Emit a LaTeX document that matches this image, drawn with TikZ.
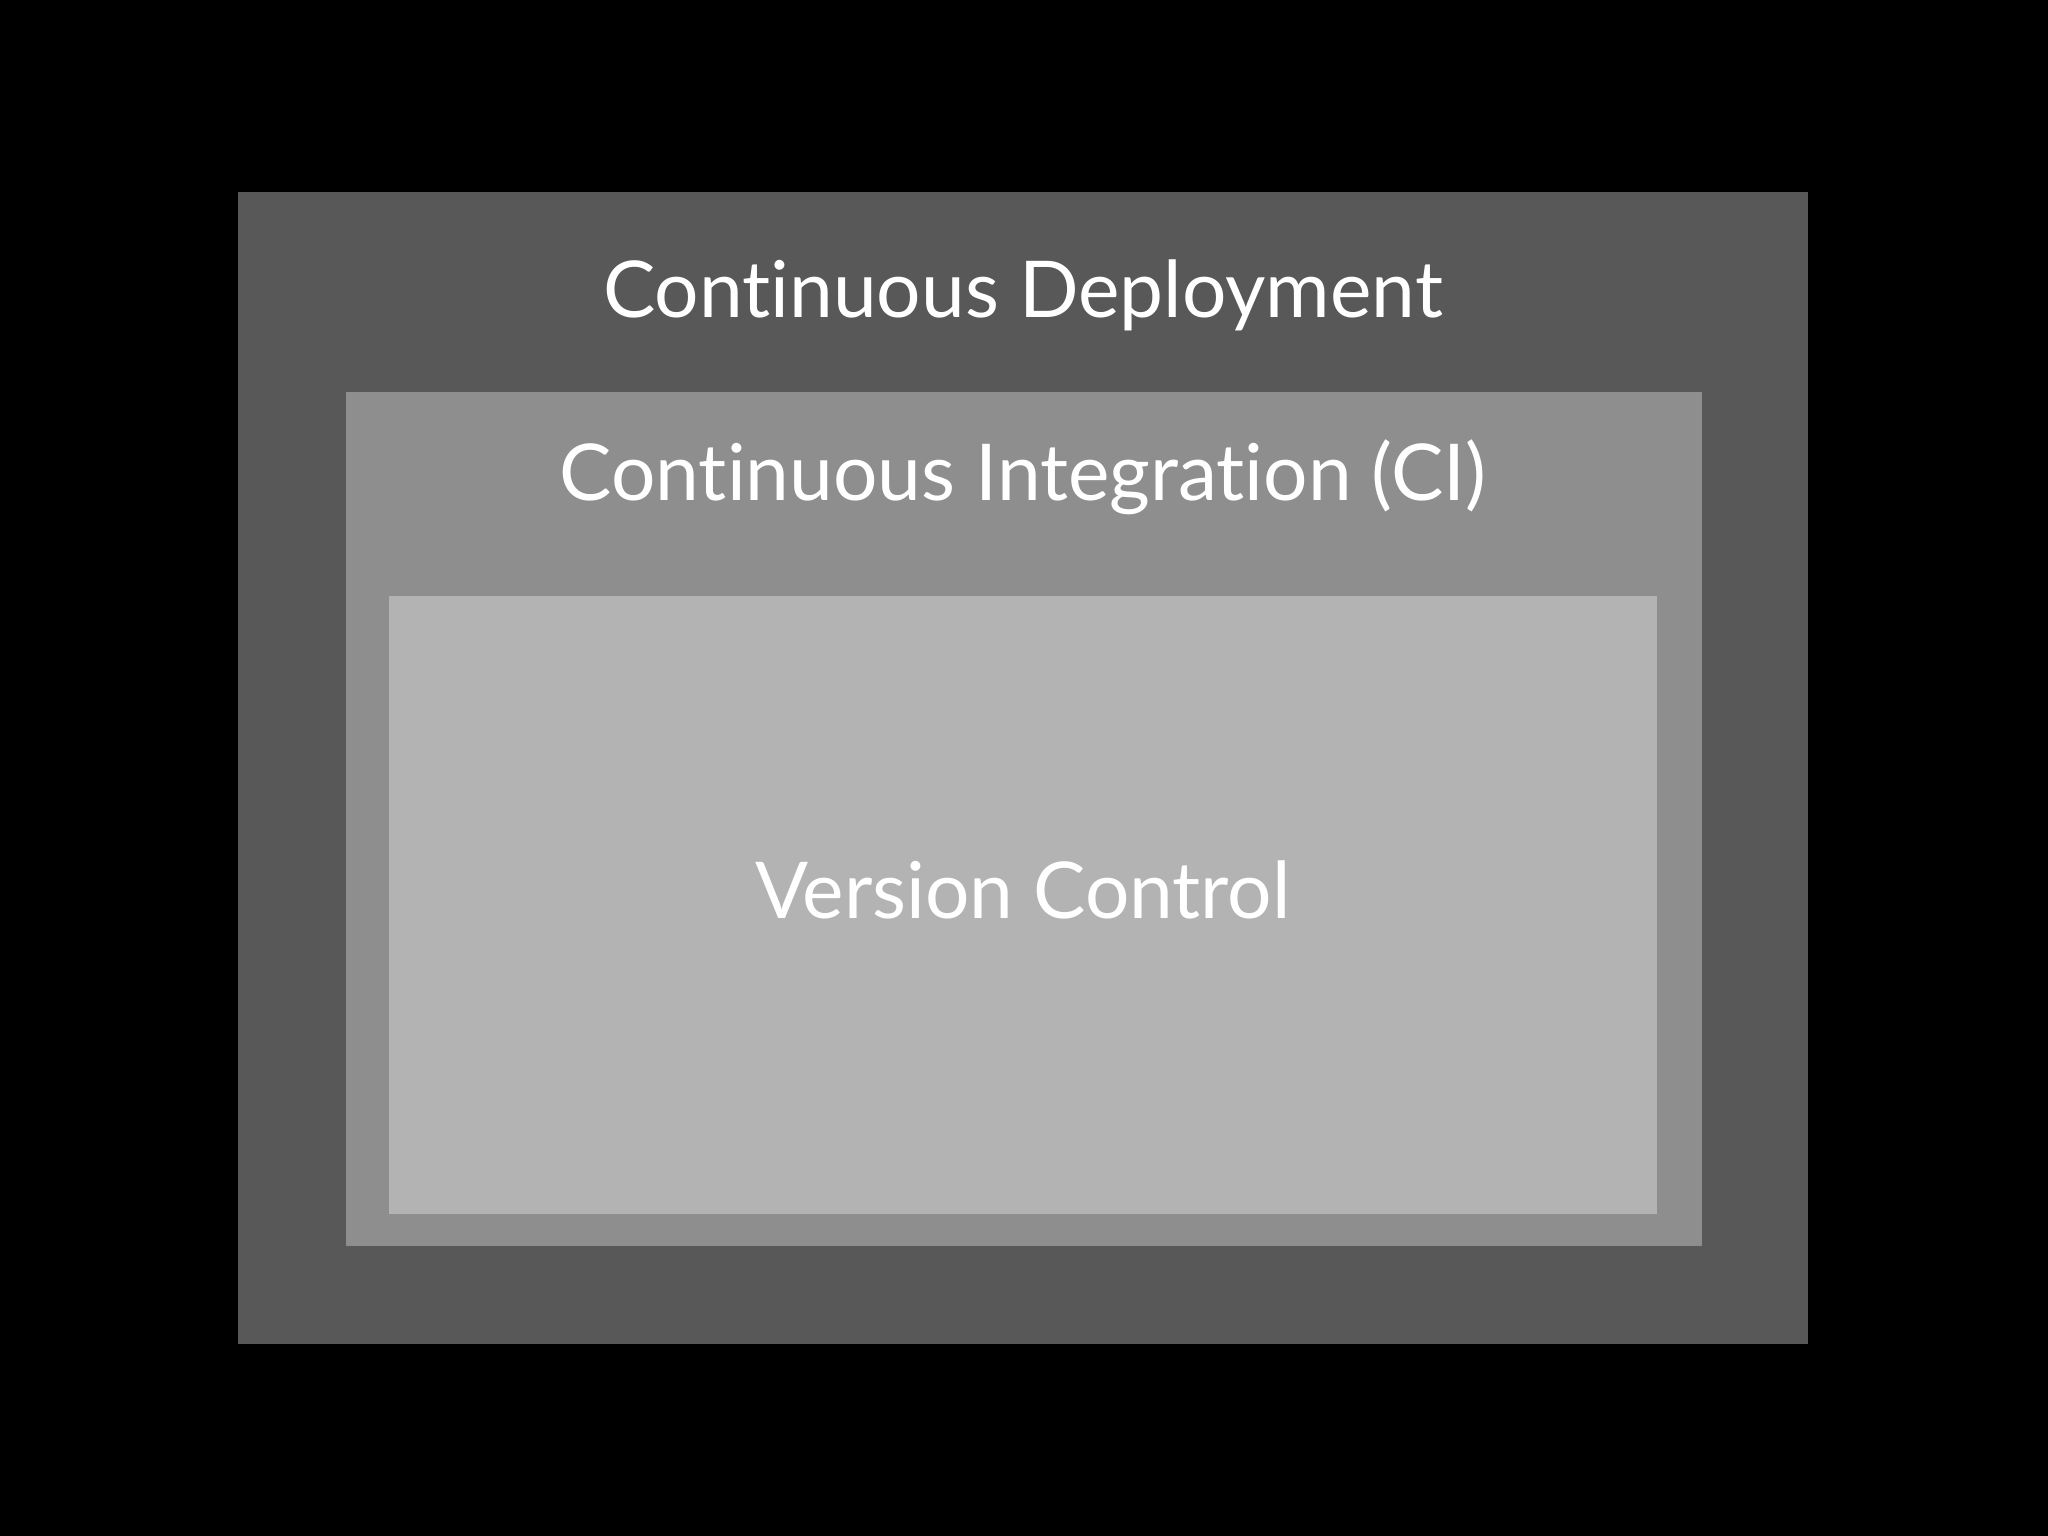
\documentclass[tikz,border=0pt]{standalone}
\usepackage{fontspec}
\setmainfont[Ligatures=NoCommon]{Lato}
\usepackage{tikz}
\usetikzlibrary{positioning}
\usepackage{xcolor}
\definecolor{deploygray}{RGB}{88,88,88}
\definecolor{cigray}{RGB}{142,142,142}
\definecolor{vcgray}{RGB}{179,179,179}

\begin{document}
\begin{tikzpicture}[x=0.01cm, y=-0.01cm,
    layertext/.style={text=white, anchor=base, inner sep=0pt, font=\fontsize{22.3}{26}\selectfont}]
% Background
\fill[black] (0,0) rectangle (2048,1536);

% Nested layers
\fill[deploygray] (238,192) rectangle (1808,1344);
\fill[cigray] (346,392) rectangle (1702,1246);
\fill[vcgray] (389,596) rectangle (1657,1214);

% Labels
\node[layertext] (deploy) at (1023,317) {Continuous Deployment};
\node[layertext] (ci) at (1023,500) {Continuous Integration (CI)};
\node[layertext] (vc) at (1023,918) {Version Control};
\end{tikzpicture}
\end{document}
